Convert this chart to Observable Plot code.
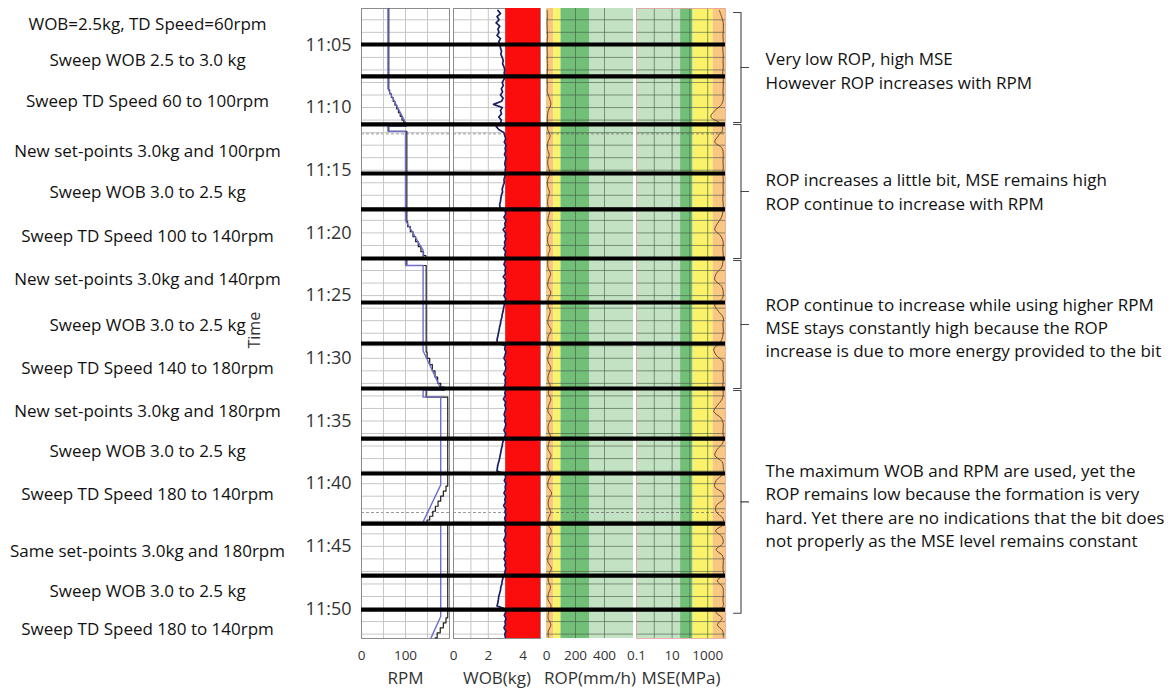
<!DOCTYPE html>
<html><head><meta charset="utf-8">
<script src="https://cdn.jsdelivr.net/npm/d3@7"></script>
<script src="https://cdn.jsdelivr.net/npm/@observablehq/plot@0.6"></script>
<style>
body{margin:0;background:#fff;width:1176px;height:693px;overflow:hidden;position:relative;font-family:"Open Sans",sans-serif;}
.trk{position:absolute;top:0;}
</style></head><body><div id="root"></div>
<script>
// ---------- data (time = minutes after 11:00) ----------
const timeDomain = [2.1, 52.35];
const timeTicks = [5, 10, 15, 20, 25, 30, 35, 40, 45, 50];
const minuteGrid = d3.range(3, 53);
const dashedGrid = [12.1, 42.3];
const phaseBounds = [4.97, 7.52, 11.35, 15.26, 18.13, 22.04, 25.55, 28.82, 32.41, 36.4, 39.19, 43.18, 47.33, 50.04];

const phaseLabels = [
  ["WOB=2.5kg, TD Speed=60rpm", 3.38],
  ["Sweep WOB 2.5 to 3.0 kg", 6.25],
  ["Sweep TD Speed 60 to 100rpm", 9.52],
  ["New set-points 3.0kg and 100rpm", 13.51],
  ["Sweep WOB 3.0 to 2.5 kg", 16.78],
  ["Sweep TD Speed 100 to 140rpm", 20.29],
  ["New set-points 3.0kg and 140rpm", 23.72],
  ["Sweep WOB 3.0 to 2.5 kg", 27.39],
  ["Sweep TD Speed 140 to 180rpm", 30.81],
  ["New set-points 3.0kg and 180rpm", 34.24],
  ["Sweep WOB 3.0 to 2.5 kg", 37.43],
  ["Sweep TD Speed 180 to 140rpm", 40.86],
  ["Same set-points 3.0kg and 180rpm", 45.41],
  ["Sweep WOB 3.0 to 2.5 kg", 48.6],
  ["Sweep TD Speed 180 to 140rpm", 51.63]
];

const notes = [
  ["Very low ROP, high MSE\nHowever ROP increases with RPM", 6.97],
  ["ROP increases a little bit, MSE remains high\nROP continue to increase with RPM", 16.62],
  ["ROP continue to increase while using higher RPM\nMSE stays constantly high because the ROP\nincrease is due to more energy provided to the bit", 27.46],
  ["The maximum WOB and RPM are used, yet the\nROP remains low because the formation is very\nhard. Yet there are no indications that the bit does\nnot properly as the MSE level remains constant", 41.66]
];
const bracketSpans = [[2.42, 11.19], [11.35, 22.04], [22.2, 32.41], [32.57, 50.34]];

// RPM set-point (blue) [time, rpm]
const rpmSet = [[2.1,60],[8.5,60],[11.2,100],[11.5,100],[11.5,60],[11.9,60],[11.9,100],[19.0,100],[21.4,140],[22.05,140],[22.05,100],[22.6,100],[22.6,140],[29.4,140],[32.4,180],[32.55,180],[32.55,140],[33.1,140],[33.1,180],[40.1,180],[43.05,140],[43.15,140],[43.15,180],[50.6,180],[52.3,158]];
// RPM measured (black, stepped) [time, rpm]
const rpmAct = [[2.1,62],[8.6,64],[8.9,68],[9.2,72],[9.5,76],[9.8,80],[10.1,84],[10.4,88],[10.7,92],[11.0,96],[11.2,101],[11.5,62],[11.9,103],
  [19.1,105],[19.5,111],[19.9,117],[20.3,123],[20.7,129],[21.1,135],[21.5,141],[21.8,146],[22.05,103],[22.6,147],
  [29.5,149],[30.0,155],[30.5,161],[31.0,167],[31.5,173],[32.0,180],[32.3,188],[32.55,147],[33.1,196],
  [40.2,192],[40.6,186],[41.0,180],[41.4,174],[41.8,168],[42.2,162],[42.6,155],[42.9,149],[43.15,196],
  [50.7,192],[51.1,186],[51.5,179],[51.9,172],[52.3,168]];

// WOB (kg), segments sampled every 0.25 min
const wobSegments = [
  [2.25, [2.55,2.7,2.5,2.62,2.45,2.66,2.55,2.62,2.5,2.7,2.6,2.68]],
  [5.25, [2.7,2.76,2.72,2.8,2.86,2.82,2.9,2.95,2.91,3.0]],
  [7.75, [2.9,2.8,2.86,2.75,2.82,2.7,2.85,2.76,2.3,2.8,2.7,2.76,2.6,2.75,2.7]],
  [11.5, [2.45,2.6,2.9]],
  [12.25,[2.95,3.0,2.92,3.02,2.97,3.0,2.93,3.03,2.98,2.95,3.0,2.97,2.99]],
  [15.5, [2.95,2.9,2.92,2.85,2.8,2.82,2.75,2.72,2.7,2.65,2.68]],
  [18.25,[2.97,3.0,2.9,3.02,2.95,2.98,2.85,3.0,2.96,3.01,2.93,2.98,2.88,3.0,2.95,3.02,2.97,2.9,3.0,2.96,2.99,2.86,3.0,2.95,3.01,2.94,2.98,2.9,3.0,2.96]],
  [25.75,[2.92,2.88,2.85,2.8,2.78,2.72,2.7,2.65,2.62,2.58,2.55,2.5,2.52]],
  [29.0, [2.98,2.94,3.01,2.96,2.9,3.0,2.95,3.02,2.97,2.88,3.0,2.96,2.99,2.92,3.01,2.95,2.98,2.87,3.0,2.95,3.02,2.96,2.91,2.99,2.94,3.01,2.97,2.9,3.0,2.95]],
  [36.5, [2.88,2.82,2.8,2.75,2.72,2.68,2.65,2.6,2.55,2.52,2.5]],
  [39.25,[2.96,3.0,2.92,3.02,2.97,2.99,2.9,3.01,2.95,2.98,2.88,3.0,2.96,3.02,2.94,2.99,2.91,3.0,2.95,3.01,2.97,2.89,3.0,2.96,3.02,2.93,2.98,2.9,3.0,2.95,3.01,2.96,2.92]],
  [47.5, [2.85,2.8,2.78,2.72,2.7,2.65,2.6,2.58,2.55,2.5]],
  [50.0, [2.97,3.0,2.92,3.02,2.96,2.99,2.9,3.01,2.95,2.98]]
];
const wobStep = 0.25;
const wobLimitZone = [{from: 3.0, to: 5.0}];

// ROP (mm/h) sampled every 0.5 min from 2.25
const ropStart = 2.25, ropStep = 0.5;
const ropValues = [5,6,4,5,7,5,4,6,5,8,5,4,6,5,20,30,12,6,5,
  8,25,10,6,18,8,12,25,9,7,20,10,8,22,12,9,26,10,8,24,12,9,
  10,28,14,9,30,12,10,26,14,10,32,12,9,28,13,10,30,15,10,27,
  12,30,15,10,34,14,11,28,16,10,32,14,11,30,13,10,35,15,12,29,14,10,33,16,11,30,13,10,34,15,12,28,14,10,32,15,11,30,13,12];
// MSE (MPa) sampled every 0.5 min from 2.25
const mseValues = [4500,6000,7500,7500,7200,7500,7000,7500,7300,7500,7000,7500,7500,7200,7500,6000,2500,1500,5000,7000,
  4000,2500,6500,7500,7200,7500,7000,7500,7300,7500,7000,7500,7200,6000,3500,2500,5500,7500,7000,7500,
  7200,6000,3000,2500,6000,7500,6500,2500,4000,7500,7200,7500,7000,5000,2200,3000,7000,7500,7200,7500,
  7000,7500,6500,3500,2200,5500,7500,7200,7500,7000,3500,2500,6500,7500,7000,3000,2500,7000,7500,3000,
  3000,7000,7500,2800,6500,7200,3000,6800,7500,7200,7500,3500,7000,7500,7200,7500,3000,6500,3500,7000,7500];

const ropBands = [
  {from: 0, to: 50, color: "#f8c781"},
  {from: 50, to: 100, color: "#fbf26c"},
  {from: 100, to: 300, color: "#72bf78"},
  {from: 300, to: 600, color: "#c3e2c3"}
];
const mseBands = [
  {from: 0.1, to: 30, color: "#c3e2c3"},
  {from: 30, to: 150, color: "#72bf78"},
  {from: 150, to: 2000, color: "#fbf26c"},
  {from: 2000, to: 10000, color: "#f8c781"}
];

// ---------- derived tables ----------
const setRows = rpmSet.map(([t, v]) => ({t, v}));
const actRows = rpmAct.map(([t, v]) => ({t, v}));
const wobRows = wobSegments.flatMap(([t0, vals]) => vals.map((v, i) => ({t: t0 + i * wobStep, v})));
const ropRows = ropValues.map((v, i) => ({t: ropStart + i * ropStep, v}));
const mseRows = mseValues.map((v, i) => ({t: ropStart + i * ropStep, v}));
const labelRows = phaseLabels.map(([text, t]) => ({text, t}));
const noteRows = notes.map(([text, t]) => ({text, t}));
const bracketRows = bracketSpans.flatMap(([a, b], i) => [
  {i, arm: -1, t: a}, {i, arm: 0, t: a}, {i, arm: 0, t: b}, {i, arm: -1, t: b}]);
const bracketTips = bracketSpans.flatMap(([a, b], i) => [
  {i, arm: 0, t: (a + b) / 2}, {i, arm: 1, t: (a + b) / 2}]);

// ---------- layout ----------
const H = 693, MT = 8, MB = 55;
const FONT = '"Open Sans", sans-serif';
const yOpt = {domain: timeDomain, range: [MT, H - MB], axis: null};
const common = {height: H, marginTop: MT, marginBottom: MB,
  style: {fontFamily: FONT, fontSize: "13px", color: "#333", background: "transparent", overflow: "visible"}};
const root = document.getElementById("root");
function place(svg, left) {
  svg.classList.add("trk");
  svg.style.left = left + "px";
  root.appendChild(svg);
}
const lightGrid = "#c6c6c6";
const darkGrid = "#425842";
const TICKFS = 13.5, TITLEFS = 17, TITLEDY = 45;
const thick = (inset) => Plot.ruleY(phaseBounds, {stroke: "#000", strokeWidth: 4.2, insetRight: -inset});
const xTicks = (ticks, extra = {}) => Plot.axisX(ticks, {tickSize: 0, tickPadding: 12, fontSize: TICKFS, label: null, ...extra});
const title = (s) => Plot.text([s], {frameAnchor: "bottom", dy: TITLEDY, fontSize: TITLEFS, fill: "#333"});

// RPM track with time axis and phase labels
place(Plot.plot({
  ...common, width: 453, marginLeft: 361, marginRight: 4,
  x: {domain: [0, 200]}, y: {domain: timeDomain, range: [MT, H - MB]},
  marks: [
    Plot.ruleY(minuteGrid, {stroke: lightGrid}),
    Plot.ruleY(dashedGrid, {stroke: "#9a9a9a", strokeDasharray: "3,2"}),
    Plot.ruleX([50, 100, 150], {stroke: lightGrid}),
    Plot.frame({stroke: "#8c8c8c"}),
    Plot.line(actRows, {x: "v", y: "t", curve: "step-before", stroke: "#1e1e1e", strokeWidth: 1.2}),
    Plot.line(setRows, {x: "v", y: "t", stroke: "#6d6dd2", strokeWidth: 1.4}),
    thick(4),
    xTicks([0, 100]),
    Plot.axisY(timeTicks, {tickSize: 0, tickPadding: 10, fontSize: 18, label: null,
      tickFormat: d => "11:" + String(d).padStart(2, "0")}),
    title("RPM"),
    Plot.text(["Time"], {frameAnchor: "left", dx: -107, dy: 25, rotate: -90, fontSize: 16, fill: "#333"}),
    Plot.text(labelRows, {y: "t", text: "text", frameAnchor: "left", dx: -214, textAnchor: "middle", fontSize: 17, fill: "#111"})
  ]
}), 0);

// WOB track
place(Plot.plot({
  ...common, width: 93, marginLeft: 0, marginRight: 6,
  x: {domain: [0, 5]}, y: yOpt,
  marks: [
    Plot.ruleY(minuteGrid, {stroke: lightGrid}),
    Plot.ruleY(dashedGrid, {stroke: "#9a9a9a", strokeDasharray: "3,2"}),
    Plot.ruleX([1, 2, 3, 4], {stroke: lightGrid}),
    Plot.frame({stroke: "#8c8c8c"}),
    Plot.rectX(wobLimitZone, {x1: "from", x2: "to", fill: "#fb0d0d"}),
    Plot.line(wobRows, {x: "v", y: "t", stroke: "#1b1f62", strokeWidth: 1.7}),
    thick(6),
    xTicks([0, 2, 4]),
    title("WOB(kg)")
  ]
}), 453);

// ROP track
place(Plot.plot({
  ...common, width: 90, marginLeft: 0, marginRight: 3,
  x: {domain: [0, 600]}, y: yOpt,
  marks: [
    Plot.rectX(ropBands, {x1: "from", x2: "to", fill: "color"}),
    Plot.ruleY(minuteGrid, {stroke: darkGrid, strokeOpacity: 0.6}),
    Plot.ruleY(dashedGrid, {stroke: "#555", strokeOpacity: 0.6, strokeDasharray: "3,2"}),
    Plot.ruleX([200, 400], {stroke: darkGrid, strokeOpacity: 0.6}),
    Plot.line(ropRows, {x: "v", y: "t", curve: "catmull-rom", stroke: "#6b4a2a", strokeWidth: 1}),
    thick(3),
    xTicks([0, 200, 400]),
    title("ROP(mm/h)")
  ]
}), 546);

// MSE track
place(Plot.plot({
  ...common, width: 90, marginLeft: 0, marginRight: 1,
  x: {type: "log", domain: [0.1, 10000]}, y: yOpt,
  marks: [
    Plot.rectX(mseBands, {x1: "from", x2: "to", fill: "color"}),
    Plot.ruleY(minuteGrid, {stroke: darkGrid, strokeOpacity: 0.6}),
    Plot.ruleY(dashedGrid, {stroke: "#555", strokeOpacity: 0.6, strokeDasharray: "3,2"}),
    Plot.ruleX([1, 10, 100, 1000], {stroke: darkGrid, strokeOpacity: 0.6}),
    Plot.frame({stroke: "#e2a0a0", strokeWidth: 0.8}),
    Plot.line(mseRows, {x: "v", y: "t", curve: "catmull-rom", stroke: "#6b4a2a", strokeWidth: 1}),
    thick(0),
    xTicks([0.1, 10, 1000], {tickFormat: d => String(d)}),
    title("MSE(MPa)")
  ]
}), 636);

// Annotation brackets and notes
place(Plot.plot({
  ...common, width: 450, marginLeft: 7, marginRight: 428,
  x: {domain: [-1, 1], axis: null}, y: yOpt,
  marks: [
    Plot.line(bracketRows, {x: "arm", y: "t", z: "i", stroke: "#444", strokeWidth: 1.1}),
    Plot.line(bracketTips, {x: "arm", y: "t", z: "i", stroke: "#444", strokeWidth: 1.1}),
    Plot.text(noteRows, {y: "t", text: "text", frameAnchor: "right", dx: 17, textAnchor: "start",
      lineHeight: 1.38, fontSize: 17, fill: "#111"})
  ]
}), 726);
</script></body></html>
